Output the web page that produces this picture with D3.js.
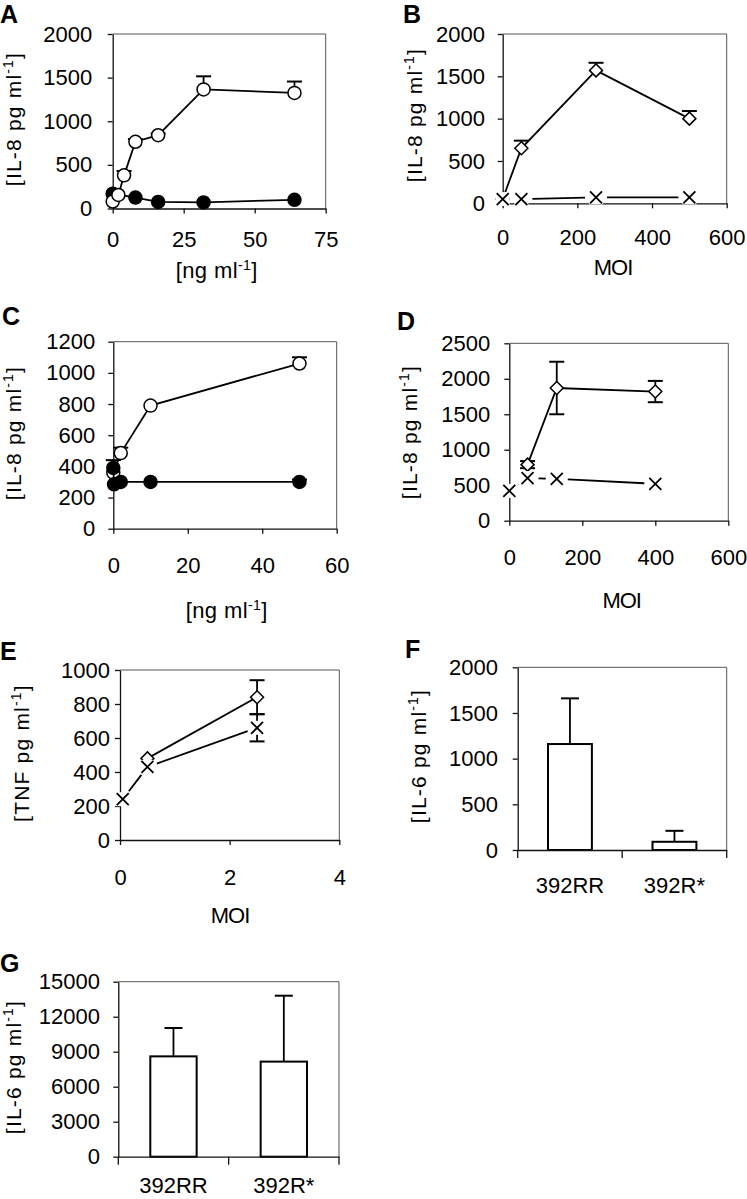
<!DOCTYPE html>
<html lang="en">
<head>
<meta charset="UTF-8">
<script src="https://d3js.org/d3.v7.min.js"></script>
<style>
    body { margin: 0; background: #fff; }
    svg text { font-family: "Liberation Sans", Arial, sans-serif; fill: #000; }
</style>
<title>IL-8, TNF and IL-6 responses</title>
</head>
<body>
<svg id="fig" width="747" height="1199"></svg>
<script>
    // ---- data ----
    // A: IL-8 vs dose, open / filled circles
    var doseA_open = [0, 2, 4, 8, 16, 32, 64];
    var il8A_open = [80, 155, 380, 765, 840, 1365, 1325];
    var il8A_openErr = [0, 0, 50, 30, 20, 150, 130];
    var doseA_filled = [0, 8, 16, 32, 64];
    var il8A_filled = [170, 125, 75, 70, 100];
    var ticksA_x = [0, 25, 50, 75];
    var ticksA_y = [0, 500, 1000, 1500, 2000];

    // B: IL-8 vs MOI, diamonds / crosses
    var moiB_diamond = [0, 50, 250, 500];
    var il8B_diamond = [50, 650, 1570, 1000];
    var il8B_diamondErr = [0, 90, 90, 90];
    var moiB_cross = [0, 50, 250, 500];
    var il8B_cross = [50, 50, 70, 70];
    var ticksB_x = [0, 200, 400, 600];
    var ticksB_y = [0, 500, 1000, 1500, 2000];

    // C: IL-8 vs dose
    var doseC_open = [0, 2, 10, 50];
    var il8C_open = [360, 485, 790, 1060];
    var il8C_openErr = [0, 35, 0, 40];
    var doseC_filled = [0, 0.2, 2, 10, 50];
    var il8C_filled = [390, 285, 300, 300, 300];
    var il8C_filledErr = [50, 0, 0, 0, 15];
    var ticksC_x = [0, 20, 40, 60];
    var ticksC_y = [0, 200, 400, 600, 800, 1000, 1200];

    // D: IL-8 vs MOI
    var moiD_diamond = [50, 130, 400];
    var il8D_diamond = [790, 1870, 1820];
    var il8D_diamondErr = [50, 370, 150];
    var moiD_cross = [0, 50, 130, 400];
    var il8D_cross = [420, 600, 590, 520];
    var ticksD_x = [0, 200, 400, 600];
    var ticksD_y = [0, 500, 1000, 1500, 2000, 2500];

    // E: TNF vs MOI
    var moiE_diamond = [0.5, 2.5];
    var tnfE_diamond = [480, 840];
    var tnfE_diamondErr = [0, 100];
    var moiE_cross = [0.05, 0.5, 2.5];
    var tnfE_cross = [240, 430, 660];
    var tnfE_crossErr = [0, 0, 80];
    var ticksE_x = [0, 2, 4];
    var ticksE_y = [0, 200, 400, 600, 800, 1000];

    // F and G: IL-6 bars
    var strains = ["392RR", "392R*"];
    var il6F = [1160, 90];
    var il6F_err = [500, 120];
    var ticksF_y = [0, 500, 1000, 1500, 2000];
    var il6G = [8600, 8150];
    var il6G_err = [2430, 5650];
    var ticksG_y = [0, 3000, 6000, 9000, 12000, 15000];

    var svg = d3.select("#fig");
    var fmt = d3.format("d");

    function letter(t, x, y) {
        svg.append("text").attr("x", x).attr("y", y)
            .style("font-size", "25px").style("font-weight", "bold").text(t);
    }

    // title with a superscript part, e.g. "[IL-8 pg ml" + "-1" + "]"
    function titled(sel, base, sup, tail) {
        sel.append("tspan").text(base);
        sel.append("tspan").attr("dy", -8).style("font-size", "14px").text(sup);
        sel.append("tspan").attr("dy", 8).text(tail);
    }

    function yTitle(cx, cy, base) {
        var t = svg.append("text")
            .attr("transform", "translate(" + (cx + 7) + "," + cy + ") rotate(-90)")
            .attr("text-anchor", "middle")
            .style("font-size", "21px").style("letter-spacing", "1.2px");
        titled(t, base, "-1", "]");
    }

    function frame(b) {
        svg.append("path")
            .attr("d", "M" + b.left + "," + b.top + "H" + b.right + "V" + b.bottom)
            .attr("fill", "none").attr("stroke", "#555").attr("stroke-width", 1);
    }

    function yAxis(y, b, ticks, pad) {
        var ax = svg.append("g").attr("transform", "translate(" + b.left + ",0)")
            .call(d3.axisLeft(y).tickValues(ticks).tickSize(5).tickSizeOuter(0).tickPadding(pad).tickFormat(fmt));
        ax.attr("font-size", null).attr("font-family", null);
        ax.selectAll("path, line").attr("stroke", "#111").attr("stroke-width", 1.3);
        ax.selectAll("text").style("font-size", "22px");
    }

    function xAxis(x, b, ticks, off) {
        var ax = svg.append("g").attr("transform", "translate(0," + b.bottom + ")")
            .call(d3.axisBottom(x).tickValues(ticks).tickSize(5).tickSizeOuter(0).tickFormat(fmt));
        ax.attr("font-size", null).attr("font-family", null);
        ax.selectAll("path, line").attr("stroke", "#111").attr("stroke-width", 1.3);
        ax.selectAll("text").attr("y", off).attr("dy", 0).style("font-size", "22px");
    }

    function marker(g, kind, px, py) {
        if (kind == "open" || kind == "filled") {
            g.append("circle").attr("cx", px).attr("cy", py).attr("r", 6.5)
                .attr("fill", kind == "open" ? "#fff" : "#000")
                .attr("stroke", "#000").attr("stroke-width", 1.5);
        } else if (kind == "diamond") {
            g.append("path")
                .attr("d", "M" + px + "," + (py - 6.5) + "L" + (px + 6.5) + "," + py + "L" + px + "," + (py + 6.5) + "L" + (px - 6.5) + "," + py + "Z")
                .attr("fill", "#fff").attr("stroke", "#000").attr("stroke-width", 1.5);
        } else {
            g.append("rect").attr("x", px - 7).attr("y", py - 7).attr("width", 14).attr("height", 14).attr("fill", "#fff");
            g.append("path")
                .attr("d", "M" + (px - 6) + "," + (py - 6) + "L" + (px + 6) + "," + (py + 6) + "M" + (px + 6) + "," + (py - 6) + "L" + (px - 6) + "," + (py + 6))
                .attr("stroke", "#000").attr("stroke-width", 1.8);
        }
    }

    function errBar(g, px, y0, y1, half) {
        g.append("line").attr("x1", px).attr("x2", px).attr("y1", y0).attr("y2", y1)
            .attr("stroke", "#000").attr("stroke-width", 1.8);
        g.append("line").attr("x1", px - half).attr("x2", px + half).attr("y1", y1).attr("y2", y1)
            .attr("stroke", "#000").attr("stroke-width", 2);
    }

    // s: {xs, ys, up, down, kind, gap}
    function series(x, y, s) {
        var g = svg.append("g");
        var pts = s.xs.map(function (d, i) { return [x(d), y(s.ys[i])]; });
        s.xs.forEach(function (d, i) {
            if (s.up && s.up[i]) errBar(g, pts[i][0], pts[i][1], y(s.ys[i] + s.up[i]), 7.5);
            if (s.down && s.down[i]) errBar(g, pts[i][0], pts[i][1], y(s.ys[i] - s.down[i]), 7.5);
        });
        if (s.gap) {
            // crosses: the line stops short of each marker
            for (var i = 0; i < pts.length - 1; i++) {
                var a = pts[i], b = pts[i + 1];
                var dx = b[0] - a[0], dy = b[1] - a[1], len = Math.sqrt(dx * dx + dy * dy);
                if (len <= 2 * s.gap) continue;
                var ux = dx / len, uy = dy / len;
                g.append("line")
                    .attr("x1", a[0] + ux * s.gap).attr("y1", a[1] + uy * s.gap)
                    .attr("x2", b[0] - ux * s.gap).attr("y2", b[1] - uy * s.gap)
                    .attr("stroke", "#000").attr("stroke-width", 1.8);
            }
        } else {
            g.append("path").attr("d", d3.line()(pts))
                .attr("fill", "none").attr("stroke", "#000").attr("stroke-width", 1.8);
        }
        pts.forEach(function (p) { marker(g, s.kind, p[0], p[1]); });
    }

    function linePanel(p) {
        var b = p.box;
        var x = d3.scaleLinear().domain(p.xDomain).range([b.left, b.right]);
        var y = d3.scaleLinear().domain(p.yDomain).range([b.bottom, b.top]);
        frame(b);
        yAxis(y, b, p.yTicks, p.yPad);
        xAxis(x, b, p.xTicks, p.xOff);
        p.series.forEach(function (s) { series(x, y, s); });
        letter(p.letter, p.letterAt[0], p.letterAt[1]);
        yTitle(p.yTitleAt[0], p.yTitleAt[1], p.yTitle);
        var xt = svg.append("text").attr("x", p.xTitleAt[0]).attr("y", p.xTitleAt[1])
            .attr("text-anchor", "middle").style("font-size", "22px");
        if (p.xTitle == "MOI") {
            xt.style("letter-spacing", "-1px").text("MOI");
        } else {
            xt.style("letter-spacing", "0.4px");
            titled(xt, "[ng ml", "-1", "]");
        }
    }

    function barPanel(p) {
        var b = p.box;
        var x = d3.scaleBand().domain(strains).range([b.left, b.right]).paddingInner(0.58).paddingOuter(0.29);
        var y = d3.scaleLinear().domain(p.yDomain).range([b.bottom, b.top]);
        frame(b);
        var g = svg.append("g");
        p.values.forEach(function (v, i) {
            var cx = x(strains[i]) + x.bandwidth() / 2;
            errBar(g, cx, y(v), y(v + p.err[i]), 9);
            g.append("rect").attr("x", x(strains[i])).attr("y", y(v))
                .attr("width", x.bandwidth()).attr("height", y(0) - y(v))
                .attr("fill", "#fff").attr("stroke", "#000").attr("stroke-width", 2);
        });
        yAxis(y, b, p.yTicks, p.yPad);
        var ax = svg.append("g").attr("transform", "translate(0," + b.bottom + ")")
            .call(d3.axisBottom(x).tickSize(0).tickSizeOuter(0));
        ax.attr("font-size", null).attr("font-family", null);
        ax.selectAll("path").attr("stroke", "#111").attr("stroke-width", 1.3);
        ax.selectAll("text").attr("y", p.xOff).attr("dy", 0).style("font-size", "22px");
        // category boundary ticks
        d3.range(strains.length + 1).forEach(function (i) {
            var tx = b.left + i * x.step();
            svg.append("line").attr("x1", tx).attr("x2", tx).attr("y1", b.bottom).attr("y2", b.bottom + 8)
                .attr("stroke", "#111").attr("stroke-width", 1.3);
        });
        letter(p.letter, p.letterAt[0], p.letterAt[1]);
        yTitle(p.yTitleAt[0], p.yTitleAt[1], "[IL-6 pg ml");
    }

    linePanel({
        letter: "A", letterAt: [0, 23], box: {left: 112.7, right: 325.7, top: 34, bottom: 208.5},
        xDomain: [0, 75], yDomain: [0, 2000], xTicks: ticksA_x, yTicks: ticksA_y,
        yPad: 15.5, xOff: 38.5, yTitle: "[IL-8 pg ml", yTitleAt: [13.5, 119], xTitleAt: [216.7, 278], xTitle: "ng",
        series: [
            {xs: doseA_filled, ys: il8A_filled, kind: "filled"},
            {xs: doseA_open, ys: il8A_open, up: il8A_openErr, kind: "open"}
        ]
    });

    linePanel({
        letter: "B", letterAt: [403, 23], box: {left: 502.7, right: 726.7, top: 34, bottom: 203.3},
        xDomain: [0, 600], yDomain: [0, 2000], xTicks: ticksB_x, yTicks: ticksB_y,
        yPad: 12.7, xOff: 41.7, yTitle: "[IL-8 pg ml", yTitleAt: [415, 115], xTitleAt: [613, 275], xTitle: "MOI",
        series: [
            {xs: moiB_diamond, ys: il8B_diamond, up: il8B_diamondErr, kind: "diamond"},
            {xs: moiB_cross, ys: il8B_cross, kind: "cross", gap: 11}
        ]
    });

    linePanel({
        letter: "C", letterAt: [2, 325], box: {left: 113.3, right: 336.7, top: 341.7, bottom: 528.7},
        xDomain: [0, 60], yDomain: [0, 1200], xTicks: ticksC_x, yTicks: ticksC_y,
        yPad: 13, xOff: 44.3, yTitle: "[IL-8 pg ml", yTitleAt: [13.5, 433], xTitleAt: [226.7, 618], xTitle: "ng",
        series: [
            {xs: doseC_open, ys: il8C_open, up: il8C_openErr, kind: "open"},
            {xs: doseC_filled, ys: il8C_filled, up: il8C_filledErr, kind: "filled"}
        ]
    });

    linePanel({
        letter: "D", letterAt: [397, 330], box: {left: 509.3, right: 728.3, top: 343.3, bottom: 520.7},
        xDomain: [0, 600], yDomain: [0, 2500], xTicks: ticksD_x, yTicks: ticksD_y,
        yPad: 14, xOff: 44.3, yTitle: "[IL-8 pg ml", yTitleAt: [410, 432], xTitleAt: [621.7, 608], xTitle: "MOI",
        series: [
            {xs: moiD_diamond, ys: il8D_diamond, up: il8D_diamondErr, down: il8D_diamondErr, kind: "diamond"},
            {xs: moiD_cross, ys: il8D_cross, kind: "cross", gap: 11}
        ]
    });

    linePanel({
        letter: "E", letterAt: [0, 660], box: {left: 120, right: 339.3, top: 670, bottom: 840},
        xDomain: [0, 4], yDomain: [0, 1000], xTicks: ticksE_x, yTicks: ticksE_y,
        yPad: 5, xOff: 45, yTitle: "[TNF pg ml", yTitleAt: [21.7, 753], xTitleAt: [230, 923], xTitle: "MOI",
        series: [
            {xs: moiE_diamond, ys: tnfE_diamond, up: tnfE_diamondErr, down: tnfE_diamondErr, kind: "diamond"},
            {xs: moiE_cross, ys: tnfE_cross, up: tnfE_crossErr, down: tnfE_crossErr, kind: "cross", gap: 10}
        ]
    });

    barPanel({
        letter: "F", letterAt: [405, 658], box: {left: 517.7, right: 726.7, top: 667.3, bottom: 850},
        yDomain: [0, 2000], yTicks: ticksF_y, values: il6F, err: il6F_err,
        yPad: 14.7, xOff: 43, yTitleAt: [418.5, 756]
    });

    barPanel({
        letter: "G", letterAt: [0, 972], box: {left: 118.3, right: 339, top: 981.7, bottom: 1156.7},
        yDomain: [0, 15000], yTicks: ticksG_y, values: il6G, err: il6G_err,
        yPad: 13.3, xOff: 36, yTitleAt: [14, 1067]
    });
</script>
</body>
</html>
